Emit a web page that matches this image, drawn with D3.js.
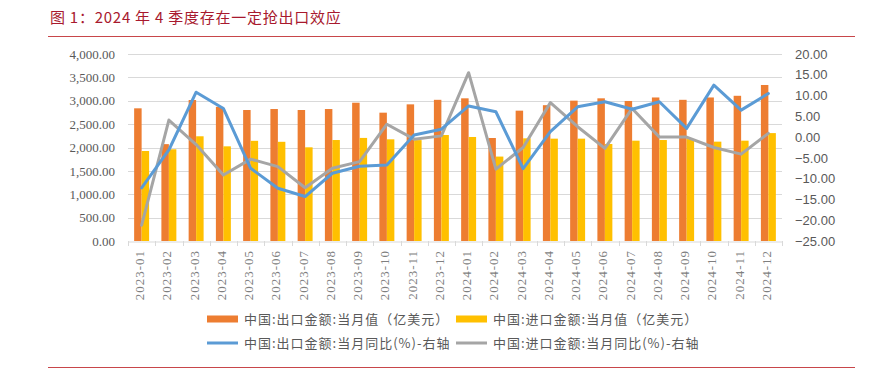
<!DOCTYPE html>
<html>
<head>
<meta charset="utf-8">
<script src="https://cdn.jsdelivr.net/npm/d3@7"></script>
<style>
  body { margin: 0; background: #fff; }
  svg { display: block; }
</style>
</head>
<body>
<div id="chart"></div>
<script>
// months on the x axis
const months = ['2023-01','2023-02','2023-03','2023-04','2023-05','2023-06','2023-07','2023-08','2023-09','2023-10','2023-11','2023-12',
                '2024-01','2024-02','2024-03','2024-04','2024-05','2024-06','2024-07','2024-08','2024-09','2024-10','2024-11','2024-12'];

// 当月值 (亿美元), left axis
const exportValue = [2838, 2072, 3016, 2870, 2802, 2823, 2802, 2823, 2958, 2745, 2923, 3020,
                     3052, 2203, 2788, 2905, 3002, 3052, 2995, 3070, 3020, 3070, 3106, 3337];
const importValue = [1925, 1962, 2240, 2025, 2143, 2122, 2004, 2160, 2205, 2175, 2158, 2267,
                     2225, 1806, 2196, 2189, 2189, 2075, 2146, 2160, 2180, 2125, 2146, 2308];

// 当月同比 (%), right axis
const exportYoY = [-12.2, -3.1, 10.8, 6.9, -7.5, -12.3, -14.3, -8.7, -7.0, -6.7, 0.5, 1.9,
                   7.5, 6.1, -7.6, 1.3, 7.3, 8.5, 6.7, 8.5, 2.1, 12.5, 6.5, 10.5];
const importYoY = [-21.2, 4.1, -1.8, -9.1, -5.3, -7.1, -12.2, -7.5, -5.9, 3.1, -0.5, 0.3,
                   15.5, -7.7, -2.5, 8.3, 2.5, -2.7, 6.9, 0.0, 0.0, -2.5, -4.1, 0.9];

const leftTicks = d3.range(0, 4001, 500);
const rightTicks = d3.range(-25, 21, 5);

const legendItems = [
  {label: '中国:出口金额:当月值（亿美元）', type: 'bar', color: '#ED7D31'},
  {label: '中国:进口金额:当月值（亿美元）', type: 'bar', color: '#FFC000'},
  {label: '中国:出口金额:当月同比(%)-右轴', type: 'line', color: '#5B9BD5'},
  {label: '中国:进口金额:当月同比(%)-右轴', type: 'line', color: '#A5A5A5'}
];

const width = 873, height = 376;
const plot = {left: 128, right: 782, top: 54, bottom: 241};

const svg = d3.select('#chart').append('svg')
    .attr('width', width)
    .attr('height', height);

// title + red rules
svg.append('text')
    .attr('x', 50)
    .attr('y', 23)
    .attr('fill', '#A8192E')
    .attr('font-family', '"Noto Sans CJK SC", sans-serif')
    .attr('font-size', 15)
    .attr('letter-spacing', 0.75)
    .text('图 1：2024 年 4 季度存在一定抢出口效应');

svg.append('line')
    .attr('x1', 48).attr('x2', 855)
    .attr('y1', 36.5).attr('y2', 36.5)
    .attr('stroke', '#C8464A').attr('stroke-width', 1);

svg.append('line')
    .attr('x1', 48).attr('x2', 855)
    .attr('y1', 367.5).attr('y2', 367.5)
    .attr('stroke', '#C8464A').attr('stroke-width', 1);

const x = d3.scaleBand()
    .domain(months)
    .range([plot.left, plot.right])
    .paddingInner(0);

const xSub = d3.scaleBand()
    .domain(['export', 'import'])
    .range([0, x.bandwidth()])
    .paddingInner(0)
    .paddingOuter(0.82);

const yLeft = d3.scaleLinear()
    .domain([0, 4000])
    .range([plot.bottom, plot.top]);

const yRight = d3.scaleLinear()
    .domain([-25, 20])
    .range([plot.bottom, plot.top]);

// gridlines
svg.append('g')
  .selectAll('line')
  .data(leftTicks.filter(d => d > 0))
  .join('line')
    .attr('x1', plot.left).attr('x2', plot.right)
    .attr('y1', d => Math.round(yLeft(d)) + 0.5)
    .attr('y2', d => Math.round(yLeft(d)) + 0.5)
    .attr('stroke', '#D9D9D9');

// left axis
const yAxisLeft = d3.axisLeft(yLeft)
    .tickValues(leftTicks)
    .tickFormat(d3.format(',.2f'))
    .tickSize(0)
    .tickPadding(13);

svg.append('g')
    .attr('transform', `translate(${plot.left},0)`)
    .call(yAxisLeft)
    .call(g => g.select('.domain').remove())
    .call(g => g.selectAll('text')
        .attr('fill', '#595959')
        .attr('font-family', '"Liberation Serif", serif')
        .attr('font-size', 13));

// right axis
const yAxisRight = d3.axisRight(yRight)
    .tickValues(rightTicks)
    .tickFormat(d3.format('.2f'))
    .tickSize(0)
    .tickPadding(13);

svg.append('g')
    .attr('transform', `translate(${plot.right},0)`)
    .call(yAxisRight)
    .call(g => g.select('.domain').remove())
    .call(g => g.selectAll('text')
        .attr('fill', '#595959')
        .attr('font-family', '"Liberation Sans", sans-serif')
        .attr('font-size', 13));

// bars
const barData = months.map((m, i) => ({month: m, export: exportValue[i], import: importValue[i]}));
const barColor = {export: '#ED7D31', import: '#FFC000'};

svg.append('g')
  .selectAll('g')
  .data(barData)
  .join('g')
    .attr('transform', d => `translate(${x(d.month)},0)`)
  .selectAll('rect')
  .data(d => ['export', 'import'].map(k => ({key: k, value: d[k]})))
  .join('rect')
    .attr('x', d => xSub(d.key))
    .attr('width', xSub.bandwidth())
    .attr('y', d => yLeft(d.value))
    .attr('height', d => yLeft(0) - yLeft(d.value))
    .attr('fill', d => barColor[d.key]);

// bottom axis
const xAxis = d3.axisBottom(x)
    .tickSize(0)
    .tickFormat('');

svg.append('g')
    .attr('transform', `translate(0,${plot.bottom + 0.5})`)
    .call(xAxis)
    .call(g => g.select('.domain').attr('stroke', '#D9D9D9'));

// tick marks at category boundaries
svg.append('g')
  .selectAll('line')
  .data(months.concat(['end']))
  .join('line')
    .attr('x1', (d, i) => Math.round(plot.left + i * x.step()) + 0.5)
    .attr('x2', (d, i) => Math.round(plot.left + i * x.step()) + 0.5)
    .attr('y1', plot.bottom)
    .attr('y2', plot.bottom + 5)
    .attr('stroke', '#D9D9D9');

svg.append('g')
  .selectAll('text')
  .data(months)
  .join('text')
    .attr('transform', d => `translate(${x(d) + x.bandwidth() / 2 - 2},250) rotate(-90)`)
    .attr('text-anchor', 'end')
    .attr('dy', '0.35em')
    .attr('fill', '#7F7F7F')
    .attr('font-family', '"Liberation Serif", serif')
    .attr('font-size', 13)
    .attr('letter-spacing', 1)
    .text(d => d);

// lines on right axis
const line = d3.line()
    .x((d, i) => x(months[i]) + x.bandwidth() / 2)
    .y(d => yRight(d));

svg.append('path')
    .datum(importYoY)
    .attr('d', line)
    .attr('fill', 'none')
    .attr('stroke', '#A5A5A5')
    .attr('stroke-width', 3)
    .attr('stroke-linejoin', 'round')
    .attr('stroke-linecap', 'round');

svg.append('path')
    .datum(exportYoY)
    .attr('d', line)
    .attr('fill', 'none')
    .attr('stroke', '#5B9BD5')
    .attr('stroke-width', 3)
    .attr('stroke-linejoin', 'round')
    .attr('stroke-linecap', 'round');

/*legend*/
const legend = svg.append('g')
  .selectAll('g')
  .data(legendItems)
  .join('g')
    .attr('transform', (d, i) => `translate(${i % 2 === 0 ? 207 : 456},${i < 2 ? 319 : 343})`);

legend.filter(d => d.type === 'bar').append('rect')
    .attr('x', 0).attr('y', -3.5)
    .attr('width', 31).attr('height', 7)
    .attr('fill', d => d.color);

legend.filter(d => d.type === 'line').append('line')
    .attr('x1', 0).attr('x2', 31)
    .attr('y1', 0).attr('y2', 0)
    .attr('stroke', d => d.color)
    .attr('stroke-width', 3);

legend.append('text')
    .attr('x', 37)
    .attr('y', 0)
    .attr('dy', '0.36em')
    .attr('fill', '#595959')
    .attr('font-family', '"Noto Sans CJK SC", sans-serif')
    .attr('font-size', 13)
    .attr('letter-spacing', 1)
    .text(d => d.label);
</script>
</body>
</html>
